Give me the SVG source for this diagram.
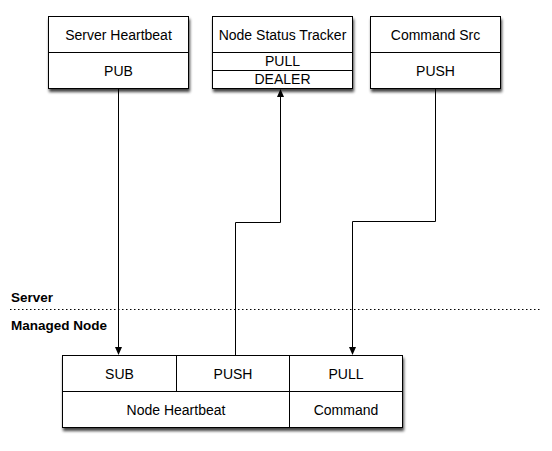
<svg xmlns="http://www.w3.org/2000/svg" width="552" height="451" viewBox="0 0 552 451">
<defs>
<filter id="sh" x="-10%" y="-10%" width="130%" height="140%">
<feGaussianBlur in="SourceAlpha" stdDeviation="1.6"/>
<feOffset dx="1" dy="3" result="b"/>
<feComponentTransfer><feFuncA type="linear" slope="0.75"/></feComponentTransfer>
<feMerge><feMergeNode/><feMergeNode in="SourceGraphic"/></feMerge>
</filter>
<marker id="ar" markerWidth="8" markerHeight="8" refX="7" refY="4" orient="auto" markerUnits="userSpaceOnUse">
<path d="M0,0.5 L8,4 L0,7.5 Z" fill="#000"/>
</marker>
</defs>
<style>
.box{fill:#fff;stroke:#000;stroke-width:1}
.ln{stroke:#000;stroke-width:1;fill:none}
text{font-family:"Liberation Sans",Arial,sans-serif;font-size:14px;fill:#000;text-anchor:middle}
.lbl{font-weight:bold;text-anchor:start;font-size:13.5px}
.conn{stroke:#000;stroke-width:1;fill:none}
</style>
<rect width="552" height="451" fill="#fff"/>
<g id="server-heartbeat">
<rect class="box" x="48.5" y="16.5" width="140" height="72" filter="url(#sh)"/>
<line class="ln" x1="48.5" y1="52.5" x2="188.5" y2="52.5"/>
<text x="118.5" y="40">Server Heartbeat</text>
<text x="118.5" y="76">PUB</text>
</g>
<g id="node-status-tracker">
<rect class="box" x="212.5" y="16.5" width="140" height="72" filter="url(#sh)"/>
<line class="ln" x1="212.5" y1="52.5" x2="352.5" y2="52.5"/>
<line class="ln" x1="212.5" y1="70.5" x2="352.5" y2="70.5"/>
<text x="282.5" y="40">Node Status Tracker</text>
<text x="282.5" y="66">PULL</text>
<text x="282.5" y="84">DEALER</text>
</g>
<g id="command-src">
<rect class="box" x="370.5" y="16.5" width="130" height="72" filter="url(#sh)"/>
<line class="ln" x1="370.5" y1="52.5" x2="500.5" y2="52.5"/>
<text x="435.5" y="40">Command Src</text>
<text x="435.5" y="76">PUSH</text>
</g>
<g id="managed-node">
<rect class="box" x="62.5" y="355.5" width="340" height="72" filter="url(#sh)"/>
<line class="ln" x1="62.5" y1="391.5" x2="402.5" y2="391.5"/>
<line class="ln" x1="176.5" y1="355.5" x2="176.5" y2="391.5"/>
<line class="ln" x1="289.5" y1="355.5" x2="289.5" y2="427.5"/>
<text x="119.5" y="379">SUB</text>
<text x="233" y="379">PUSH</text>
<text x="346" y="379">PULL</text>
<text x="176" y="415">Node Heartbeat</text>
<text x="346" y="415">Command</text>
</g>
<g id="boundary">
<line x1="10" y1="309.5" x2="542" y2="309.5" stroke="#000" stroke-width="1" stroke-dasharray="1.5,2.5"/>
<text class="lbl" x="11" y="302">Server</text>
<text class="lbl" x="11" y="330">Managed Node</text>
</g>
<g id="connectors">
<path class="conn" d="M118.5,88.5 L118.5,354" marker-end="url(#ar)"/>
<path class="conn" d="M235.5,355.5 L235.5,222.5 L280.5,222.5 L280.5,90" marker-end="url(#ar)"/>
<path class="conn" d="M435.5,88.5 L435.5,221.5 L352.5,221.5 L352.5,354" marker-end="url(#ar)"/>
</g>
</svg>
